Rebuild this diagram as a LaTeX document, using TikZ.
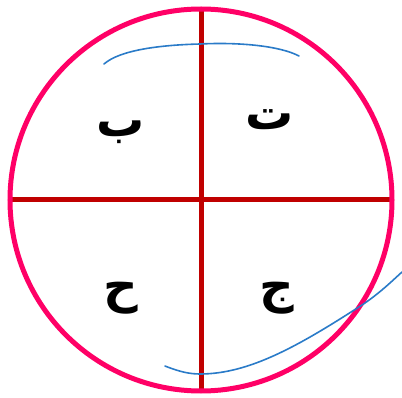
\documentclass[tikz,border=0pt]{standalone}
\usepackage{fontspec}
\newfontfamily\arabicfont[Script=Arabic]{DejaVu Sans}
\TeXXeTstate=1
\definecolor{ringpink}{HTML}{FF0066}
\definecolor{crossred}{HTML}{C00000}
\definecolor{penblue}{HTML}{2A7BC8}
\tikzset{
  ring/.style={draw=ringpink,line width=5pt},
  crossline/.style={draw=crossred,line width=5pt},
  pen/.style={draw=penblue,line width=1.6pt,line cap=round},
  letter/.style={font=\arabicfont\bfseries\fontsize{48}{56}\selectfont,inner sep=0pt}
}
\begin{document}
\begin{tikzpicture}[x=1pt,y=-1pt]
\useasboundingbox (0,0) rectangle (402,398);
\coordinate (c) at (201,200);
\coordinate (top) at (201,8);
\coordinate (bot) at (201,391);
\coordinate (lft) at (10,200);
\coordinate (rgt) at (392,200);
\draw[crossline] (top) -- (bot);
\draw[crossline] (lft) -- (rgt);
\draw[ring] (c) circle[radius=191pt];
\node[letter] (ba) at (121,132) {\beginR ب\endR};
\node[letter] (ta) at (270,120) {\beginR ت\endR};
\node[letter] (ha) at (121,298) {\beginR ح\endR};
\node[letter] (jim) at (277,298) {\beginR ج\endR};
\coordinate (a1) at (104,64);
\coordinate (a2) at (200,44);
\coordinate (a3) at (299,56);
\draw[pen] (a1) .. controls (120,50) and (160,45) .. (a2) .. controls (240,42) and (280,46) .. (a3);
\coordinate (b1) at (165,366);
\coordinate (b2) at (200,374);
\coordinate (b3) at (362,305);
\coordinate (b4) at (402,272);
\draw[pen] (b1) .. controls (180,372) and (190,374) .. (b2) .. controls (250,374) and (300,345) .. (b3) .. controls (380,293) and (392,281) .. (b4);
\end{tikzpicture}
\end{document}
